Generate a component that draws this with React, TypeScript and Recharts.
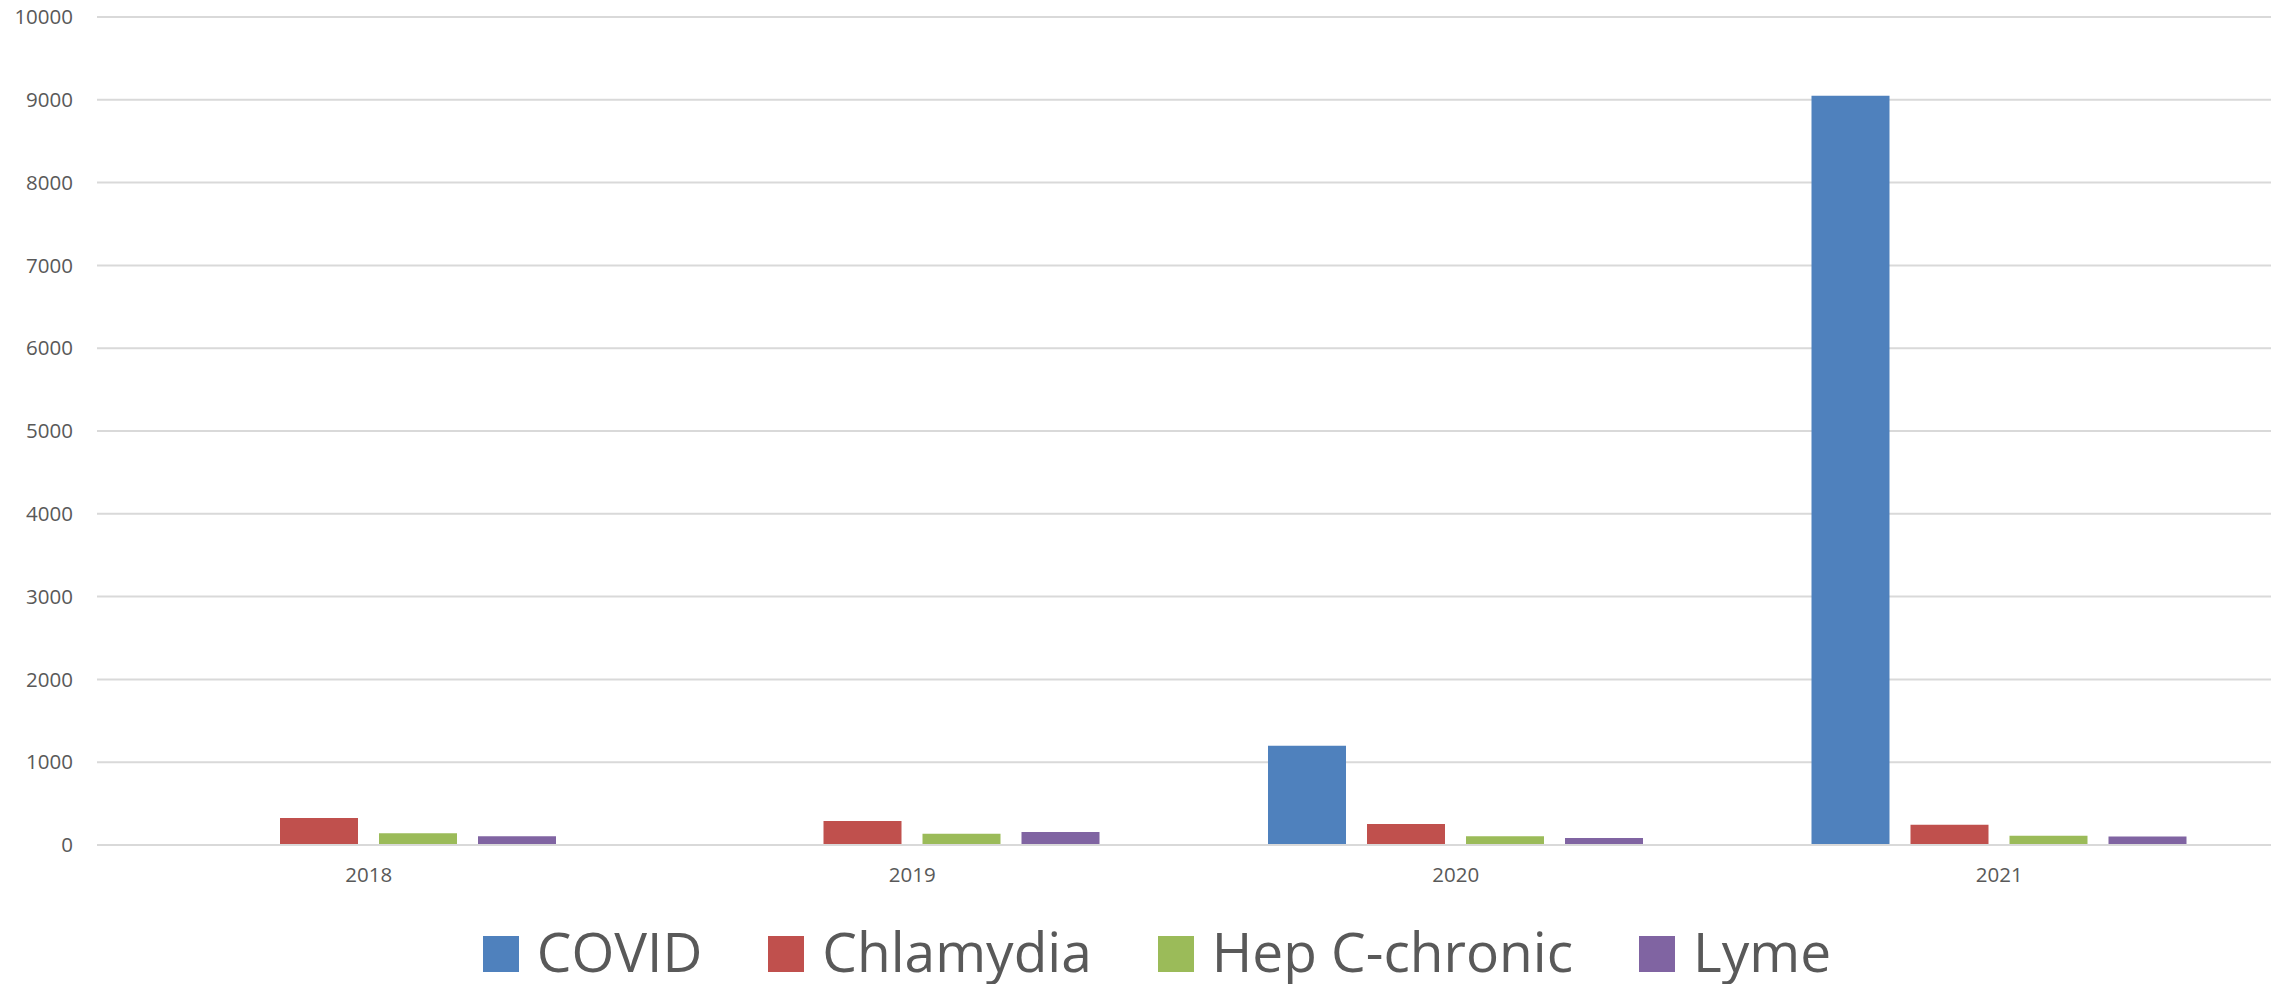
import React from 'react';
import { BarChart, Bar, XAxis, YAxis, CartesianGrid, Legend } from 'recharts';

const years = ['2018', '2019', '2020', '2021'];
const covid = [0, 0, 1200, 9050];
const chlamydia = [326, 290, 254, 244];
const hepC = [141, 136, 107, 111];
const lyme = [105, 157, 85, 103];
const yTicks = [0, 1000, 2000, 3000, 4000, 5000, 6000, 7000, 8000, 9000, 10000];

const seriesNames = ['COVID', 'Chlamydia', 'Hep C-chronic', 'Lyme'];
const seriesKeys = ['covid', 'chlamydia', 'hepC', 'lyme'];
const seriesColors = ['#4F81BD', '#C0504D', '#9BBB59', '#8064A2'];

const data = years.map((y, i) => ({
  year: y,
  covid: covid[i],
  chlamydia: chlamydia[i],
  hepC: hepC[i],
  lyme: lyme[i],
}));

const FONT = '"Open Sans", sans-serif';

const renderLegend = () => (
  <div
    style={{
      display: 'flex',
      flexDirection: 'row',
      justifyContent: 'center',
      alignItems: 'center',
      fontFamily: FONT,
      fontSize: 55,
      lineHeight: '55px',
      color: '#595959',
      paddingLeft: 34,
    }}
  >
    {seriesNames.map((n, i) => (
      <div
        key={n}
        style={{
          display: 'flex',
          alignItems: 'center',
          marginRight: i < seriesNames.length - 1 ? 66 : 0,
        }}
      >
        <div
          style={{
            width: 36,
            height: 36,
            background: seriesColors[i],
            marginRight: 18,
            marginTop: 7,
          }}
        />
        <span>{n}</span>
      </div>
    ))}
  </div>
);

export default function App() {
  return (
    <div style={{ position: 'absolute', left: 0, top: 0, width: 2280, height: 984, background: '#fff' }}>
      <BarChart
        width={2280}
        height={984}
        data={data}
        margin={{ top: 17, right: 9, bottom: 89, left: 0 }}
        barSize={78}
        barGap={21}
      >
        <CartesianGrid vertical={false} stroke="#d9d9d9" strokeWidth={2} />
        <XAxis
          dataKey="year"
          tickLine={false}
          axisLine={{ stroke: '#d9d9d9', strokeWidth: 2 }}
          tick={{ fill: '#595959', fontSize: 20.5, fontFamily: FONT }}
          tickMargin={16}
          height={50}
        />
        <YAxis
          width={97}
          domain={[0, 10000]}
          ticks={yTicks}
          interval={0}
          tickLine={false}
          axisLine={false}
          tick={{ fill: '#595959', fontSize: 20.5, fontFamily: FONT }}
          tickMargin={18}
        />
        <Legend
          verticalAlign="middle"
          align="center"
          layout="horizontal"
          content={renderLegend}
          wrapperStyle={{ top: 923, left: 0, width: 2280 }}
        />
        {seriesKeys.map((k, i) => (
          <Bar key={k} dataKey={k} name={seriesNames[i]} fill={seriesColors[i]} isAnimationActive={false} />
        ))}
      </BarChart>
    </div>
  );
}
